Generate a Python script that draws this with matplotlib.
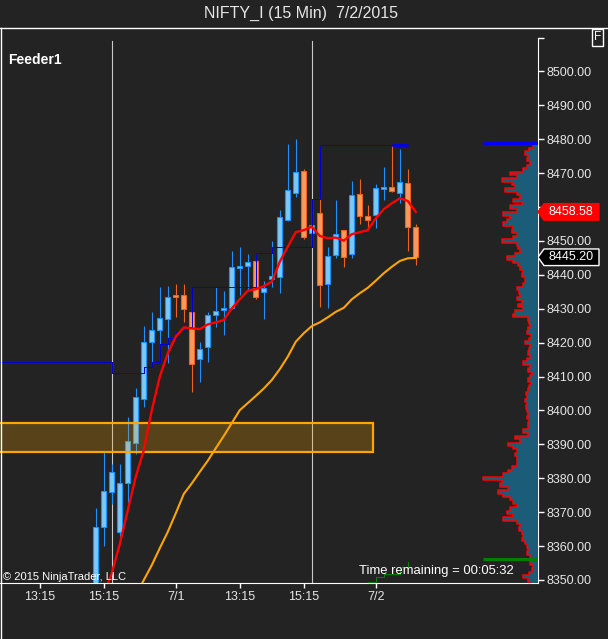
import numpy as np
import matplotlib.pyplot as plt
import matplotlib.transforms as mtransforms
from matplotlib import font_manager
from matplotlib.patches import Polygon, Rectangle
from matplotlib.lines import Line2D

plt.rcParams['font.family'] = ['Liberation Sans', 'DejaVu Sans']

BG = '#232323'
FG = '#E6E6E6'

# 15 min bars, index 0 = first visible bar
opens = [8346.0, 8365.5, 8375.9, 8364.2, 8378.5, 8390.3, 8403.3, 8420.1, 8423.7, 8427.1,
         8434.1, 8434.0, 8429.0, 8415.1, 8418.8, 8428.1, 8429.8, 8430.1, 8442.2, 8442.5,
         8444.0, 8434.9, 8438.9, 8439.3, 8456.1, 8464.1, 8470.6, 8452.3, 8458.2, 8437.2,
         8445.8, 8453.2, 8446.1, 8463.8, 8457.3, 8457.6, 8465.5, 8465.8, 8464.1, 8467.0,
         8454.0]
highs = [8371.2, 8387.8, 8384.2, 8384.2, 8398.2, 8406.7, 8424.9, 8429.1, 8436.3, 8436.7,
         8437.3, 8437.3, 8433.1, 8420.2, 8429.1, 8436.4, 8435.3, 8447.1, 8448.2, 8446.2,
         8444.9, 8438.2, 8450.0, 8459.1, 8478.6, 8480.1, 8471.2, 8459.1, 8462.9, 8448.2,
         8462.1, 8453.3, 8467.7, 8468.3, 8460.6, 8466.7, 8471.8, 8478.1, 8477.1, 8471.2,
         8454.9]
lows = [8344.0, 8360.0, 8372.4, 8360.8, 8372.6, 8387.1, 8400.9, 8414.1, 8414.9, 8413.9,
        8427.7, 8426.1, 8405.5, 8408.3, 8414.4, 8424.7, 8422.3, 8430.0, 8434.1, 8435.8,
        8433.0, 8427.1, 8436.5, 8434.7, 8456.0, 8463.1, 8450.5, 8448.8, 8430.4, 8430.1,
        8445.1, 8442.4, 8445.1, 8455.1, 8453.2, 8453.9, 8462.2, 8464.5, 8461.1, 8447.1,
        8443.0]
closes = [8365.5, 8376.3, 8381.8, 8378.5, 8390.9, 8403.9, 8420.1, 8423.7, 8427.2, 8433.4,
          8433.6, 8430.0, 8413.8, 8418.1, 8428.1, 8429.3, 8430.2, 8442.2, 8442.6, 8443.9,
          8433.4, 8436.2, 8439.6, 8457.0, 8465.0, 8470.3, 8451.1, 8454.8, 8436.9, 8445.5,
          8452.0, 8445.2, 8463.5, 8457.3, 8456.1, 8465.5, 8465.9, 8464.7, 8467.5, 8454.2,
          8445.2]

nan = np.nan
ema_fast = [nan, 8345.5, 8352.0, 8360.6, 8370.6, 8380.5, 8388.3, 8400.1, 8410.0, 8416.9,
            8421.8, 8424.5, 8424.2, 8424.0, 8425.4, 8426.0, 8426.7, 8430.1, 8432.8, 8435.3,
            8435.8, 8436.7, 8438.0, 8443.9, 8448.3, 8452.6, 8453.2, 8454.2, 8451.5, 8450.8,
            8451.0, 8450.1, 8452.0, 8452.6, 8453.2, 8456.7, 8459.4, 8461.1, 8462.6, 8461.8,
            8458.58]
ema_slow = [nan, nan, nan, nan, nan, 8345.5, 8350.0, 8354.4, 8359.4, 8364.2,
            8369.7, 8375.4, 8378.5, 8381.9, 8385.2, 8388.9, 8392.5, 8396.3, 8400.1, 8402.2,
            8404.3, 8406.5, 8409.0, 8412.2, 8415.9, 8420.3, 8422.8, 8424.9, 8426.0, 8427.5,
            8429.1, 8430.3, 8432.8, 8434.6, 8436.2, 8438.3, 8440.5, 8442.4, 8444.1, 8444.9,
            8445.0]

tick_bars = [-7, 1, 10, 18, 26, 35]
tick_labels = ['13:15', '15:15', '7/1', '13:15', '15:15', '7/2']
session_breaks = [2, 27]

# stepped high / low trackers
high_bars = [-12, 2, 3, 6, 7, 8, 9, 10, 11, 12, 20, 22, 27, 28, 39]
high_levels = [8414.2, 8411.2, 8411.0, 8412.9, 8414.3, 8419.6, 8421.3, 8423.5, 8424.7,
               8436.3, 8446.4, 8448.1, 8462.3, 8478.3, 8478.3]
low_bars = [34, 35, 36, 38, 39, 39]
low_levels = [8349.3, 8351.0, 8351.8, 8353.9, 8355.4, 8355.4]

zone_low, zone_high = 8387.8, 8396.3
zone_end_bar = 34.7

# volume profile, one value per price point starting at 8349
profile_start = 8349
profile_vol = [8, 9.7, 14.7, 8.7, 6.3, 5.3, 8, 6.3, 8, 10.7,
               9.7, 11.3, 13, 16.3, 14.7, 16.3, 18.7, 18, 21, 35.3,
               24.7, 31.3, 28, 21, 24.7, 28, 34.7, 39.7, 29.7, 38,
               36.3, 54.7, 34.7, 29.7, 26, 21, 21, 21, 23, 21,
               24.7, 29.7, 18, 23, 9.7, 14.7, 9.7, 9.7, 8.7, 11.3,
               9.7, 11.3, 12, 10.7, 13, 11.3, 12, 9.7, 8.7, 7.3,
               9.7, 8, 6.3, 9.7, 8, 15.3, 11.3, 8, 9.7, 8.7,
               8, 13, 8.7, 7.3, 11.3, 9.7, 8, 8.7, 9.7, 24.7,
               23, 14.7, 19.7, 16.3, 21, 18, 18.7, 21, 14.7, 13,
               13, 16, 14.7, 18, 19.7, 24.7, 31, 23, 18, 19.7,
               21, 36.3, 24.7, 21, 26, 24.7, 34.7, 31, 28, 35,
               21, 28, 16, 24.7, 18, 21, 33, 23, 26, 36,
               21, 28, 15, 11, 8, 11, 9.7, 13, 8.7, 4.7]
session_high = 8478.8
session_low = 8356.2
last_price = 8445.20
ema_last = 8458.58

W, H = 608, 639
fig = plt.figure(figsize=(W / 100, H / 100), dpi=100, facecolor=BG)
ax_w, ax_h = 538, 548
ax = fig.add_axes([0, (H - 583) / H, ax_w / W, ax_h / H])
ax.set_facecolor(BG)
y_lo, y_hi = 8349.115, 8349.115 + ax_h / 3.39
ax.set_ylim(y_lo, y_hi)
x0 = 95.8
ax.set_xlim(-x0 / 8, (ax_w - x0) / 8)

o, h, l, c = map(np.array, (opens, highs, lows, closes))
bars = np.arange(len(o))
up = c >= o
wick_col = np.where(up, '#1E90FF', '#F0601E')
fill_col = np.where(up, '#7CC8F2', '#F89A5C')
edge_col = np.where(up, '#1E90FF', '#F0601E')
min_body = 0.6
body_h = np.maximum(np.abs(c - o), min_body)
body_lo = np.where(np.abs(c - o) < min_body, (o + c) / 2 - min_body / 2, np.minimum(o, c))

ax.vlines(bars, l, h, colors=wick_col, lw=0.8, zorder=2)
ax.bar(bars, body_h, bottom=body_lo, width=0.58, color=fill_col, edgecolor=edge_col,
       linewidth=0.8, zorder=3)

for b in session_breaks:
    ax.axvline(b, ymin=0, ymax=(583 - 41) / ax_h, color='#C8C8C8', lw=0.8, zorder=1)

zone = Rectangle((-15, zone_low), zone_end_bar + 15, zone_high - zone_low,
                 facecolor=(1, 0.647, 0, 0.24), edgecolor='#FFA500', lw=1.6, zorder=4)
ax.add_patch(zone)

ax.step(high_bars, high_levels, where='post', color='#0000D0', lw=0.72, zorder=5,
        antialiased=False)
ax.hlines(high_levels[-1], 37, 39, color='#0000F0', lw=2.0, zorder=5)
ax.step(low_bars, low_levels, where='post', color='#008000', lw=0.72, zorder=5,
        antialiased=False)

ax.plot(bars, ema_slow, color='#FFA500', lw=1.5, zorder=6, solid_joinstyle='round')
ax.plot(bars, ema_fast, color='#FF0000', lw=1.7, zorder=7, solid_joinstyle='round')

# axes styling
for s in ('top', 'left'):
    ax.spines[s].set_visible(False)
ax.spines['bottom'].set_color('white')
ax.spines['right'].set_color('white')
ax.spines['right'].set_bounds(y_lo, 8510)
yt = np.arange(8350, 8511, 10)
ax.yaxis.tick_right()
ax.set_yticks(yt)
# 8460 sits under the red price tag, 8510 has no label
ax.set_yticklabels(['' if v in (8460, 8510) else '%.2f' % v for v in yt])
ax.tick_params(axis='y', colors='white', labelcolor=FG, length=4.3, width=1,
               labelsize=9, pad=1.5)
ax.set_xticks(tick_bars)
ax.set_xticklabels(tick_labels)
ax.tick_params(axis='x', colors='white', labelcolor=FG, length=3.6, width=1,
               labelsize=9, pad=2.5)

# volume profile on the right edge
axp = ax.twiny()
axp.set_xlim(ax_w, 0)
axp.set_ylim(y_lo, y_hi)
axp.axis('off')
pv = np.array(profile_vol)
pp = profile_start + np.arange(len(pv))
axp.barh(pp, pv, height=1.0, left=0, color='#1B5C78', edgecolor='none', zorder=1)
xs = np.repeat(pv, 2)
ys = np.column_stack([pp - 0.5, pp + 0.5]).ravel()
axp.plot(xs, ys, color='#FF0000', lw=1.1, zorder=2)
axp.hlines(session_high, 0, pv.max(), color='#0000FF', lw=2.2, zorder=3)
axp.hlines(session_low, 0, pv.max(), color='#008000', lw=2.2, zorder=3)

# price markers
trans = mtransforms.blended_transform_factory(ax.transAxes, ax.transData)
px_per_pt = ax_h / (y_hi - y_lo)
half = 8.3 / px_per_pt
def price_tag(y, face, edge, label):
    pts = [(1.0, y), (1 + 6 / ax_w, y + half), (1 + 61 / ax_w, y + half),
           (1 + 61 / ax_w, y - half), (1 + 6 / ax_w, y - half)]
    ax.add_patch(Polygon(pts, closed=True, transform=trans, facecolor=face,
                         edgecolor=edge, lw=1, clip_on=False, zorder=10))
    ax.text(1 + 33 / ax_w, y, label, transform=trans, ha='center', va='center',
            color='white', fontsize=9, clip_on=False, zorder=11)

price_tag(ema_last, '#FF0000', '#FF0000', '%.2f' % ema_last)
price_tag(last_price, '#000000', 'white', '%.2f' % last_price)

# title uses a narrow face when one is installed
names = {f.name for f in font_manager.fontManager.ttflist}
if 'Liberation Sans Narrow' in names:
    title_font, title_size = 'Liberation Sans Narrow', 13.5
else:
    title_font, title_size = 'Liberation Sans', 11.5

# panel frame, title and labels
fig.add_artist(Line2D([0, 1], [1 - 28 / H] * 2, transform=fig.transFigure, color='white', lw=1))
fig.add_artist(Line2D([1 / W] * 2, [0, 1 - 28 / H], transform=fig.transFigure, color='white', lw=1))
fig.text(301.5 / W, 1 - 13.5 / H, 'NIFTY_I (15 Min)  7/2/2015', ha='center', va='center',
         color=FG, fontsize=title_size, family=[title_font, 'DejaVu Sans'])
fig.text(8 / W, 1 - 60 / H, 'Feeder1', ha='left', va='center', color='white',
         fontsize=10, fontweight='bold')
fig.text(597.5 / W, 1 - 37.5 / H, 'F', ha='center', va='center', color='white', fontsize=8.5,
         bbox=dict(boxstyle='square,pad=0.2', facecolor=BG, edgecolor='white', lw=1))
fig.text(3 / W, 1 - 577 / H, '\u00a9 2015 NinjaTrader, LLC', ha='left', va='center',
         color='white', fontsize=8)
fig.text(359 / W, 1 - 571 / H, 'Time remaining = 00:05:32', ha='left', va='center',
         color='white', fontsize=9.4)

fig.savefig('out.png', dpi=100, facecolor=BG)
